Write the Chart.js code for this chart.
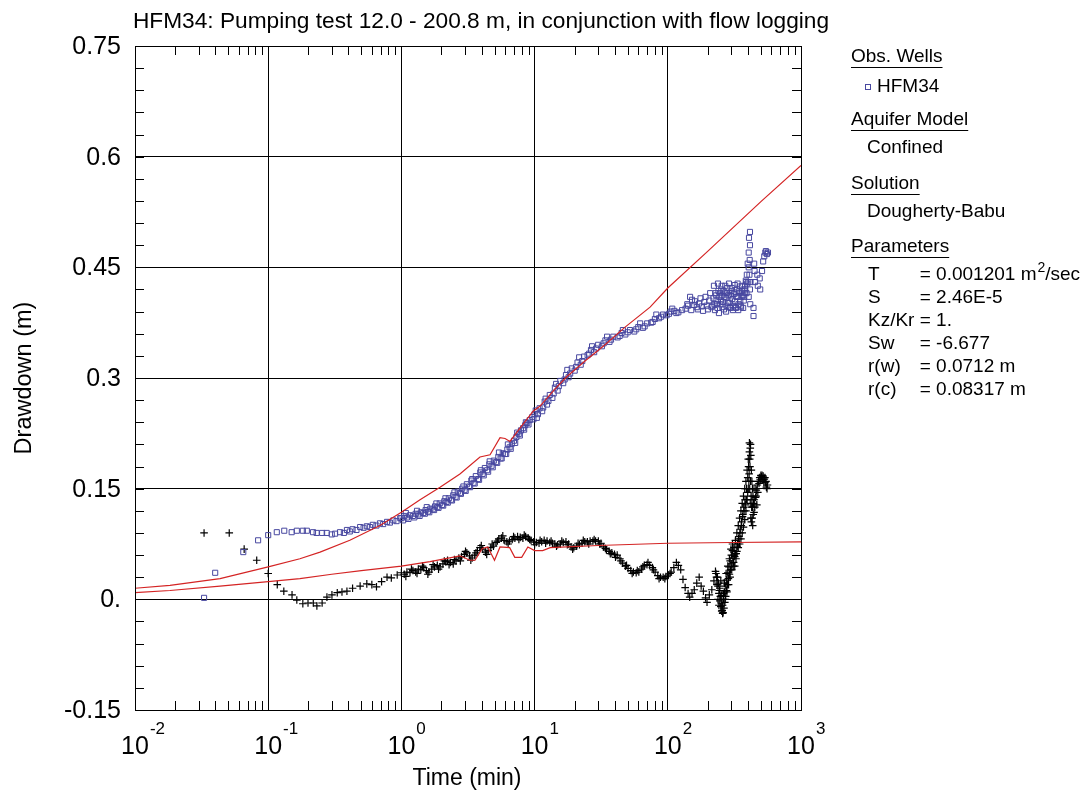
<!DOCTYPE html>
<html>
<head>
<meta charset="utf-8">
<title>HFM34 pumping test</title>
<script src="https://cdn.jsdelivr.net/npm/chart.js@4.4.1/dist/chart.umd.min.js"></script>
<style>
  html, body { margin: 0; padding: 0; background: #fff; }
  #wrap { width: 1086px; height: 794px; }
</style>
</head>
<body>
<div id="wrap"><canvas id="chart" width="1086" height="794"></canvas></div>
<script>
const FONT = "'Liberation Sans', Arial, Helvetica, sans-serif";

const TITLE = "HFM34: Pumping test 12.0 - 200.8 m, in conjunction with flow logging";
const X_TITLE = "Time (min)";
const Y_TITLE = "Drawdown (m)";

// axis ticks
const xExponents = [-2, -1, 0, 1, 2, 3];
const yTicks = [-0.15, 0, 0.15, 0.3, 0.45, 0.6, 0.75];
const yTickLabels = ["-0.15", "0.", "0.15", "0.3", "0.45", "0.6", "0.75"];

// observed drawdown, HFM34 (min, m)
const obsTime = [
  0.033, 0.040, 0.065, 0.084, 0.100, 0.116, 0.132, 0.150, 0.164, 0.182, 0.195, 0.217, 0.231, 0.254, 0.275,
  0.300, 0.318, 0.346, 0.37, 0.39, 0.41, 0.43, 0.46, 0.49, 0.52, 0.55, 0.58, 0.61, 0.65, 0.69, 0.73, 0.78,
  0.82, 0.87, 0.92, 0.98,
  1.0, 1.05, 1.1, 1.16, 1.22, 1.28, 1.34, 1.4, 1.46, 1.52, 1.58, 1.65, 1.72, 1.79, 1.86, 1.94, 2.02, 2.1,
  2.18, 2.27, 2.36, 2.45, 2.55, 2.65, 2.75, 2.86, 2.98, 3.1, 3.22, 3.35, 3.48, 3.62, 3.76, 3.91, 4.07, 4.23,
  4.4, 4.57, 4.75, 4.94, 5.14, 5.34, 5.55, 5.77, 6.0, 6.24, 6.49, 6.75, 7.0, 7.3, 7.6, 7.9, 8.2, 8.5, 8.8,
  9.2, 9.6,
  10.0, 10.4, 10.9, 11.4, 11.9, 12.4, 13.0, 13.6, 14.2, 14.9, 15.6, 16.4, 17.2, 18.0, 19.0, 20.0, 21.0, 22.2,
  23.5, 25.0, 26.5, 28.0, 30.0, 32.0, 34.0, 36.5, 39.0, 42.0, 45.0, 48.0, 52.0, 56.0, 60.0, 65.0, 70.0, 75.0,
  80.0, 86.0, 92.0, 98.0, 105, 112, 120, 128,
  1.03, 1.13, 1.25, 1.37, 1.5, 1.62, 1.76, 1.9, 2.06, 2.23, 2.4, 2.6, 2.8, 3.04, 3.28, 3.55, 3.83, 4.15,
  4.48, 4.85, 5.24, 5.66, 6.12, 6.62, 7.15, 7.75, 8.35, 9.0, 9.8, 10.6, 11.6, 12.7, 13.9, 15.2, 16.8, 18.5,
  20.5, 22.8, 25.7, 29.0, 33.0, 37.5, 43.5, 50.0, 58.0, 67.0, 77.0, 89.0, 102, 116,
  1.08, 1.31, 1.55, 1.83, 2.14, 2.5, 2.92, 3.4, 3.95, 4.6, 5.4, 6.3, 7.4, 8.6, 10.2, 12.1, 14.5, 17.6, 21.6,
  27.0, 35.0, 46.0, 62.0, 82.0, 108,
  136, 142, 147, 152, 158, 165, 172, 180, 188, 196, 205, 213,
  140, 150, 160, 168, 176, 184, 192, 200, 208, 216, 222, 226, 231, 234, 238, 242, 246, 250, 254, 258, 262,
  266, 270, 274, 278, 282, 288, 292, 298, 302, 308, 312, 318, 322, 328, 334, 338, 344, 348, 352, 358, 362,
  368, 372, 378, 382, 388, 392, 398,
  220, 224, 228, 232, 236, 240, 244, 248, 252, 256, 260, 264, 268, 272, 276, 280, 285, 290, 295, 300, 305,
  310, 315, 320, 325, 330, 335, 340, 345, 350, 355, 360, 365, 370, 375, 380, 385, 390, 395,
  402, 405, 405, 405, 407, 410, 412, 414, 414, 414, 416, 418, 440, 440, 445, 448, 452, 470, 474, 490, 494,
  510, 520, 530, 540, 545, 555, 565
];
const obsDrawdown = [
  0.002, 0.036, 0.064, 0.080, 0.087, 0.091, 0.093, 0.091, 0.093, 0.093, 0.093, 0.091, 0.090, 0.090, 0.090,
  0.088, 0.089, 0.091, 0.090, 0.094, 0.092, 0.095, 0.094, 0.098, 0.097, 0.099, 0.098, 0.101, 0.100, 0.103,
  0.102, 0.105, 0.104, 0.107, 0.106, 0.110,
  0.110, 0.113, 0.111, 0.114, 0.113, 0.116, 0.115, 0.118, 0.117, 0.121, 0.119, 0.123, 0.122, 0.126, 0.125,
  0.130, 0.128, 0.133, 0.132, 0.137, 0.135, 0.141, 0.139, 0.146, 0.144, 0.150, 0.148, 0.156, 0.153, 0.161,
  0.158, 0.167, 0.163, 0.172, 0.170, 0.178, 0.175, 0.183, 0.181, 0.188, 0.186, 0.193, 0.191, 0.198, 0.197,
  0.203, 0.206, 0.211, 0.215, 0.220, 0.224, 0.229, 0.232, 0.236, 0.239, 0.243, 0.247,
  0.251, 0.246, 0.259, 0.255, 0.268, 0.264, 0.277, 0.273, 0.287, 0.283, 0.296, 0.293, 0.304, 0.301, 0.313,
  0.310, 0.321, 0.318, 0.329, 0.331, 0.338, 0.335, 0.345, 0.343, 0.351, 0.349, 0.356, 0.355, 0.361, 0.359,
  0.365, 0.363, 0.369, 0.368, 0.374, 0.375, 0.380, 0.381, 0.386, 0.385, 0.390, 0.391, 0.389, 0.392,
  0.107, 0.109, 0.111, 0.113, 0.116, 0.118, 0.121, 0.124, 0.127, 0.131, 0.134, 0.138, 0.143, 0.147, 0.152,
  0.157, 0.162, 0.168, 0.173, 0.179, 0.185, 0.191, 0.197, 0.204, 0.212, 0.222, 0.230, 0.237, 0.244, 0.251,
  0.260, 0.269, 0.279, 0.289, 0.298, 0.306, 0.315, 0.323, 0.333, 0.340, 0.347, 0.352, 0.357, 0.362, 0.366,
  0.370, 0.376, 0.383, 0.387, 0.388,
  0.117, 0.120, 0.125, 0.130, 0.137, 0.145, 0.153, 0.163, 0.175, 0.187, 0.199, 0.210, 0.226, 0.240, 0.256,
  0.272, 0.292, 0.311, 0.328, 0.343, 0.356, 0.365, 0.374, 0.386, 0.394,
  0.394, 0.398, 0.410, 0.406, 0.399, 0.396, 0.401, 0.397, 0.403, 0.398, 0.405, 0.396,
  0.400, 0.392, 0.404, 0.393, 0.408, 0.391, 0.410, 0.393, 0.415, 0.398, 0.425, 0.392, 0.412, 0.400, 0.428,
  0.388, 0.415, 0.405, 0.425, 0.396, 0.418, 0.410, 0.425, 0.390, 0.415, 0.402, 0.428, 0.396, 0.412, 0.422,
  0.392, 0.416, 0.426, 0.396, 0.410, 0.428, 0.392, 0.418, 0.424, 0.398, 0.410, 0.425, 0.395, 0.405, 0.415,
  0.420, 0.430, 0.440, 0.455,
  0.408, 0.400, 0.415, 0.405, 0.395, 0.418, 0.410, 0.400, 0.420, 0.412, 0.403, 0.393, 0.416, 0.408, 0.398,
  0.422, 0.412, 0.402, 0.395, 0.418, 0.407, 0.398, 0.414, 0.404, 0.395, 0.420, 0.410, 0.400, 0.415, 0.405,
  0.396, 0.418, 0.412, 0.420, 0.410, 0.425, 0.432, 0.415, 0.428,
  0.430, 0.410, 0.450, 0.470, 0.490, 0.440, 0.460, 0.498, 0.480, 0.420, 0.400, 0.430, 0.395, 0.384, 0.455,
  0.445, 0.430, 0.440, 0.425, 0.435, 0.420, 0.445, 0.458, 0.465, 0.470, 0.472, 0.468, 0.470
];

// drawdown derivative (min, m)
const derivTime = [
  0.033, 0.051, 0.066, 0.082, 0.100, 0.117, 0.131, 0.151, 0.164, 0.182, 0.199, 0.218, 0.232, 0.254, 0.276,
  0.301, 0.33, 0.358, 0.39, 0.43, 0.49, 0.55, 0.60, 0.65, 0.71, 0.78, 0.84, 0.93, 1.0,
  1.05, 1.10, 1.16, 1.22, 1.28, 1.34, 1.40, 1.47, 1.54, 1.61, 1.69, 1.77, 1.86, 1.95, 2.05, 2.15, 2.22, 2.33,
  2.45, 2.57, 2.70, 2.83, 2.97, 3.10, 3.25, 3.40, 3.55, 3.72, 3.89, 4.08, 4.27, 4.48, 4.69, 4.91, 5.14, 5.38,
  5.64, 5.91, 6.19, 6.48, 6.79, 7.11, 7.45, 7.80, 8.17, 8.56, 8.97, 9.40, 9.85, 10.3, 10.8, 11.3, 11.8, 12.4,
  13.0, 13.6, 14.2, 14.9, 15.6, 16.4, 17.2, 18.0, 18.8, 19.7, 20.7, 21.7, 22.7, 23.8, 24.9, 26.1, 27.4, 28.7,
  30.1, 31.5, 33.0, 34.6, 36.3, 38.0, 39.8, 41.7, 43.7, 45.8, 48.0, 50.3, 52.7, 55.2, 57.9, 60.6, 63.5, 66.6,
  69.8, 73.1, 76.6, 80.3, 84.1, 88.1, 92.3, 96.7, 101, 106, 111, 116, 120, 125, 130, 135, 142, 146, 152, 158,
  165, 172, 178, 185, 192, 197, 205, 214, 222,
  1.08, 1.19, 1.31, 1.44, 1.58, 1.73, 1.9, 2.1, 2.28, 2.5, 2.77, 3.03, 3.32, 3.63, 3.98, 4.37, 4.8, 5.26,
  5.77, 6.33, 6.95, 7.62, 8.36, 9.18, 10.0, 11.0, 12.1, 13.3, 14.6, 16.0, 17.6, 19.3, 21.2, 23.2, 25.5, 28.0,
  30.8, 34.0, 37.0, 40.5, 44.5, 49.0, 54.0, 59.0, 65.0, 71.0, 78.0, 86.0, 95.0, 104,
  230, 236, 240, 244, 248, 252, 256, 260, 264, 268, 272, 276, 280, 285, 290, 296, 302, 308, 315, 322, 330,
  338, 346, 354, 362, 370, 378, 386, 394, 402, 408, 412, 416, 418, 420, 424, 428, 432, 436, 440, 444, 450,
  456, 462, 470, 480, 490, 500, 510, 520, 530, 540, 550, 560,
  228, 232, 238, 242, 246, 250, 254, 258, 262, 266, 270, 275, 282, 288, 294, 300, 306, 312, 318, 325, 332,
  340, 348, 356, 364, 372, 380, 390, 398, 404, 410, 414, 418, 422, 426, 430, 434, 438, 446, 452, 460, 466,
  474, 484, 494, 504, 516, 526, 536, 546, 556,
  234, 238, 242, 246, 250, 254, 258, 262, 266, 270, 274, 278, 282, 286, 290, 294, 298, 302, 306, 310, 314,
  318, 322, 326, 330, 334, 338, 342, 346, 350, 354, 358, 362, 366, 370, 374, 378, 382, 386, 390, 394, 398,
  402, 406, 410, 412, 416, 420, 424, 428, 432, 436
];
const derivValue = [
  0.090, 0.090, 0.068, 0.053, 0.035, 0.020, 0.011, 0.006, -0.001, -0.006, -0.005, -0.005, -0.009, -0.005,
  0.003, 0.006, 0.009, 0.010, 0.011, 0.015, 0.018, 0.021, 0.020, 0.017, 0.024, 0.030, 0.029, 0.033, 0.036,
  0.034, 0.037, 0.036, 0.039, 0.037, 0.041, 0.040, 0.043, 0.039, 0.037, 0.041, 0.044, 0.046, 0.044, 0.048,
  0.051, 0.053, 0.050, 0.048, 0.052, 0.056, 0.058, 0.061, 0.063, 0.059, 0.056, 0.060, 0.066, 0.070, 0.068,
  0.064, 0.066, 0.070, 0.072, 0.077, 0.082, 0.083, 0.080, 0.078, 0.079, 0.081, 0.083, 0.085, 0.084, 0.083,
  0.085, 0.083, 0.080, 0.078, 0.077, 0.076, 0.078, 0.080, 0.079, 0.077, 0.076, 0.075, 0.074, 0.075, 0.077,
  0.078, 0.075, 0.071, 0.070, 0.072, 0.074, 0.076, 0.078, 0.078, 0.079, 0.079, 0.079, 0.079, 0.076, 0.071,
  0.067, 0.065, 0.063, 0.061, 0.060, 0.055, 0.049, 0.045, 0.042, 0.039, 0.037, 0.036, 0.037, 0.041, 0.046,
  0.047, 0.046, 0.043, 0.037, 0.032, 0.030, 0.030, 0.031, 0.033, 0.037, 0.043, 0.050, 0.046, 0.040, 0.027,
  0.016, 0.008, 0.003, 0.008, 0.013, 0.022, 0.030, 0.018, 0.011, 0.002, -0.004, 0.006, 0.013, 0.025,
  0.031, 0.041, 0.035, 0.045, 0.034, 0.047, 0.041, 0.052, 0.047, 0.054, 0.052, 0.065, 0.053, 0.063, 0.073,
  0.061, 0.075, 0.079, 0.086, 0.075, 0.085, 0.081, 0.087, 0.081, 0.074, 0.080, 0.076, 0.079, 0.072, 0.079,
  0.074, 0.068, 0.076, 0.080, 0.075, 0.081, 0.075, 0.069, 0.062, 0.057, 0.052, 0.046, 0.035, 0.039, 0.044,
  0.050, 0.040, 0.028, 0.028, 0.035,
  0.035, 0.030, 0.022, 0.012, 0.004, -0.006, -0.015, -0.018, -0.012, -0.004, 0.004, 0.012, 0.020, 0.028,
  0.034, 0.040, 0.048, 0.056, 0.060, 0.062, 0.065, 0.070, 0.075, 0.082, 0.090, 0.098, 0.108, 0.120, 0.135,
  0.150, 0.170, 0.190, 0.205, 0.210, 0.195, 0.175, 0.160, 0.150, 0.140, 0.130, 0.118, 0.125, 0.138, 0.148,
  0.155, 0.160, 0.165, 0.168, 0.168, 0.167, 0.163, 0.158, 0.152, 0.155,
  0.038, 0.030, 0.018, 0.008, -0.002, -0.010, -0.016, -0.008, 0.000, 0.010, 0.018, 0.026, 0.036, 0.044,
  0.052, 0.060, 0.066, 0.050, 0.045, 0.055, 0.072, 0.082, 0.090, 0.100, 0.112, 0.125, 0.135, 0.150, 0.165,
  0.180, 0.200, 0.180, 0.160, 0.140, 0.125, 0.110, 0.100, 0.115, 0.135, 0.150, 0.140, 0.128, 0.145, 0.157,
  0.162, 0.166, 0.162, 0.158, 0.165, 0.160, 0.150,
  0.020, 0.000, -0.008, 0.015, 0.025, 0.005, -0.019, 0.008, 0.022, 0.000, 0.035, 0.010, 0.045, 0.020, 0.055,
  0.030, 0.068, 0.040, 0.075, 0.045, 0.070, 0.058, 0.080, 0.062, 0.090, 0.075, 0.100, 0.085, 0.110, 0.095,
  0.120, 0.105, 0.130, 0.115, 0.140, 0.120, 0.150, 0.128, 0.160, 0.135, 0.175, 0.145, 0.190, 0.160, 0.212,
  0.150, 0.130, 0.110, 0.105, 0.135, 0.125, 0.150
];

// fitted Dougherty-Babu curve and its derivative
const modelTime = [
  0.01, 0.0183, 0.0435, 0.1, 0.173, 0.245, 0.41, 0.69, 1.0, 1.38, 1.95, 2.75, 3.89, 4.63, 5.5, 6.0, 6.53,
  7.77, 9.75, 11.0, 14.2, 17.5, 23.9, 33.8, 47.8, 73.6, 100, 200, 500, 1000
];
const modelDrawdown = [
  0.015, 0.019, 0.028, 0.044, 0.055, 0.064, 0.080, 0.100, 0.118, 0.135, 0.152, 0.170, 0.193, 0.196, 0.219,
  0.218, 0.214, 0.232, 0.255, 0.262, 0.285, 0.302, 0.323, 0.345, 0.369, 0.396, 0.422, 0.472, 0.539, 0.588
];
const modelDerivTime = [
  0.01, 0.0183, 0.0435, 0.1, 0.173, 0.3, 0.5, 1.0, 1.64, 2.75, 3.27, 3.57, 4.05, 4.45, 5.0, 5.5, 6.5, 7.1,
  8.0, 8.9, 10.0, 11.5, 13.1, 30, 100, 300, 1000
];
const modelDerivValue = [
  0.009, 0.012, 0.018, 0.024, 0.028, 0.034, 0.039, 0.045, 0.051, 0.059, 0.053, 0.053, 0.069, 0.071, 0.053,
  0.071, 0.070, 0.057, 0.057, 0.071, 0.066, 0.066, 0.070, 0.073, 0.076, 0.077, 0.078
];

// legend panel
const legendSections = [
  { head: "Obs. Wells", y: 57 },
  { head: "Aquifer Model", y: 120, body: "Confined", bodyY: 148 },
  { head: "Solution", y: 184, body: "Dougherty-Babu", bodyY: 212 },
  { head: "Parameters", y: 247 }
];
const wellName = "HFM34";
const paramNames = ["T", "S", "Kz/Kr", "Sw", "r(w)", "r(c)"];
const paramValues = ["= 0.001201 m", "= 2.46E-5", "= 1.", "= -6.677", "= 0.0712 m", "= 0.08317 m"];

const BLUE = "#4848a0";
const RED = "#d42424";

function pairs(xs, ys) {
  return xs.map((x, i) => ({ x: x, y: ys[i] }));
}

const decor = {
  id: "decor",
  afterDraw(chart) {
    const ctx = chart.ctx;
    const a = chart.chartArea;
    const xs = chart.scales.x;
    const ys = chart.scales.y;
    const L = Math.round(a.left), R = Math.round(a.right);
    const T = Math.round(a.top), B = Math.round(a.bottom);
    ctx.save();

    // frame
    ctx.strokeStyle = "#000";
    ctx.lineWidth = 1;
    ctx.strokeRect(L + 0.5, T + 0.5, R - L, B - T);

    // inward minor ticks
    ctx.beginPath();
    for (let e = -2; e < 3; e++) {
      for (let k = 2; k <= 9; k++) {
        const px = Math.round(xs.getPixelForValue(k * Math.pow(10, e))) + 0.5;
        ctx.moveTo(px, T); ctx.lineTo(px, T + 9);
        ctx.moveTo(px, B); ctx.lineTo(px, B - 9);
      }
    }
    for (let i = 0; i <= 30; i++) {
      const v = -0.15 + i * 0.03;
      const py = Math.round(ys.getPixelForValue(v)) + 0.5;
      ctx.moveTo(L, py); ctx.lineTo(L + 9, py);
      ctx.moveTo(R, py); ctx.lineTo(R - 9, py);
    }
    ctx.stroke();

    ctx.fillStyle = "#000";

    // y tick labels
    ctx.font = "25px " + FONT;
    ctx.textAlign = "right";
    ctx.textBaseline = "middle";
    yTicks.forEach((v, i) => {
      ctx.fillText(yTickLabels[i], L - 14, ys.getPixelForValue(v) + 1);
    });

    // x tick labels, 10 with exponent
    ctx.textBaseline = "alphabetic";
    xExponents.forEach((e) => {
      const px = xs.getPixelForValue(Math.pow(10, e));
      ctx.font = "25px " + FONT;
      ctx.textAlign = "center";
      ctx.fillText("10", px, B + 44);
      const w = ctx.measureText("10").width;
      ctx.font = "17px " + FONT;
      ctx.textAlign = "left";
      ctx.fillText(String(e), px + w / 2 + 1, B + 24);
    });

    // titles
    ctx.textAlign = "center";
    ctx.font = "22.7px " + FONT;
    ctx.fillText(TITLE, 481, 28);
    ctx.font = "23px " + FONT;
    ctx.fillText(X_TITLE, 467, 785);
    ctx.save();
    ctx.translate(31, 378);
    ctx.rotate(-Math.PI / 2);
    ctx.font = "23.5px " + FONT;
    ctx.fillText(Y_TITLE, 0, 0);
    ctx.restore();

    // legend panel
    ctx.textAlign = "left";
    ctx.textBaseline = "middle";
    ctx.font = "19px " + FONT;
    legendSections.forEach((s) => {
      ctx.fillText(s.head, 851, s.y);
      const w = ctx.measureText(s.head).width;
      ctx.fillRect(851, s.y + 10, w, 1);
      if (s.body) ctx.fillText(s.body, 867, s.bodyY);
    });
    ctx.strokeStyle = BLUE;
    ctx.strokeRect(865.5, 84.5, 5, 5);
    ctx.fillText(wellName, 877, 87);

    // parameter values share one column, after the longest name
    const nameX = 868;
    const valueX = nameX + Math.max(...paramNames.map((n) => ctx.measureText(n + " ").width));
    paramNames.forEach((n, i) => {
      const y = 275 + i * 23;
      ctx.font = "19px " + FONT;
      ctx.fillText(n, nameX, y);
      ctx.fillText(paramValues[i], valueX, y);
      if (i === 0) {
        let x = valueX + ctx.measureText(paramValues[i]).width;
        ctx.font = "14px " + FONT;
        ctx.fillText("2", x + 1, y - 7);
        x += ctx.measureText("2").width + 1;
        ctx.font = "19px " + FONT;
        ctx.fillText("/sec", x, y);
      }
    });

    ctx.restore();
  }
};

new Chart(document.getElementById("chart"), {
  type: "scatter",
  data: {
    datasets: [
      {
        data: pairs(modelTime, modelDrawdown),
        showLine: true, borderColor: RED, borderWidth: 1.2, pointRadius: 0, tension: 0
      },
      {
        data: pairs(modelDerivTime, modelDerivValue),
        showLine: true, borderColor: RED, borderWidth: 1.2, pointRadius: 0, tension: 0
      },
      {
        data: pairs(obsTime, obsDrawdown),
        pointStyle: "rect", pointRadius: 3.6, borderColor: BLUE, borderWidth: 1,
        backgroundColor: "rgba(0,0,0,0)"
      },
      {
        data: pairs(derivTime, derivValue),
        pointStyle: "cross", pointRadius: 3.8, borderColor: "#000", borderWidth: 1.2
      }
    ]
  },
  options: {
    responsive: false,
    animation: false,
    devicePixelRatio: 1,
    layout: { padding: { left: 135, right: 285, top: 46, bottom: 84 } },
    plugins: { legend: { display: false }, tooltip: { enabled: false }, title: { display: false } },
    scales: {
      x: {
        type: "logarithmic", min: 0.01, max: 1000,
        afterBuildTicks: (s) => { s.ticks = xExponents.map((e) => ({ value: Math.pow(10, e) })); },
        afterFit: (s) => { s.height = 0; },
        ticks: { display: false },
        grid: { color: "#000", lineWidth: 1, drawTicks: false },
        border: { display: false }
      },
      y: {
        type: "linear", min: -0.15, max: 0.75,
        afterBuildTicks: (s) => { s.ticks = yTicks.map((v) => ({ value: v })); },
        afterFit: (s) => { s.width = 0; },
        ticks: { display: false },
        grid: { color: "#000", lineWidth: 1, drawTicks: false },
        border: { display: false }
      }
    }
  },
  plugins: [decor]
});
</script>
</body>
</html>
